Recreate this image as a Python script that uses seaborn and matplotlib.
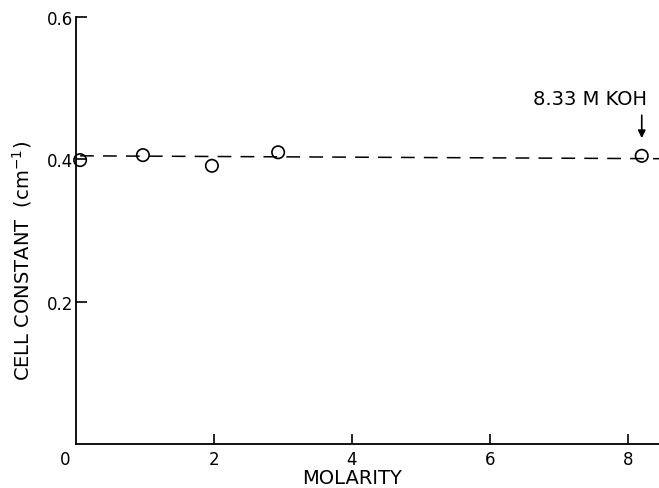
import seaborn as sns
import matplotlib.pyplot as plt
import matplotlib.transforms as mtransforms
import pandas as pd

sns.set_style('ticks')
plt.rcParams['font.family'] = ['DejaVu Sans']
plt.rcParams.update({'text.color': 'black', 'axes.labelcolor': 'black',
                     'xtick.color': 'black', 'ytick.color': 'black',
                     'axes.edgecolor': 'black'})

# measured points
molarity = [0.06, 0.97, 1.97, 2.93, 8.2]
cell_const = [0.399, 0.406, 0.391, 0.410, 0.405]
# dashed mean line
line_x = [0.06, 8.45]
line_y = [0.405, 0.401]
xticks = [0, 2, 4, 6, 8]
yticks = [0.2, 0.4, 0.6]

pts = pd.DataFrame({'M': molarity, 'K': cell_const})
fit = pd.DataFrame({'M': line_x, 'K': line_y})

fig = plt.figure(figsize=(6.59, 4.89), dpi=100)
ax = fig.add_axes([0.1153, 0.09, 0.8847, 0.873])

sns.lineplot(data=fit, x='M', y='K', ax=ax, color='black', lw=1.1,
             legend=False)
ax.lines[-1].set_dashes((9, 6))
sns.scatterplot(data=pts, x='M', y='K', ax=ax, marker='o', s=80,
                facecolors='none', edgecolor='black', linewidth=1.2,
                clip_on=False, zorder=3)

ax.set_xlim(0, 8.45)
ax.set_ylim(0, 0.6)
ax.set_xticks(xticks)
ax.set_xticklabels([str(t) for t in xticks])
ax.set_yticks(yticks)
ax.set_yticklabels(['0.2', '0.4', '0.6'])
ax.tick_params(axis='y', direction='in', length=8, width=1.2, pad=2, labelsize=12)
ax.tick_params(axis='x', direction='in', length=7, width=1.2, pad=4, labelsize=12)
# origin label sits left of the corner, no tick mark there
ax.xaxis.get_major_ticks()[0].tick1line.set_visible(False)
lbl0 = ax.get_xticklabels()[0]
lbl0.set_transform(lbl0.get_transform() + mtransforms.ScaledTranslation(-0.11, 0, fig.dpi_scale_trans))

for s in ['top', 'right']:
    ax.spines[s].set_visible(False)
for s in ['left', 'bottom']:
    ax.spines[s].set_linewidth(1.3)

ax.set_xlabel('MOLARITY', fontsize=14)
ax.set_ylabel('CELL CONSTANT  (cm$^{-1}$)', fontsize=14)
ax.xaxis.set_label_coords(0.473, -0.056)
ax.yaxis.set_label_coords(-0.072, 0.43)

ax.text(7.45, 0.485, '8.33 M KOH', ha='center', va='center', fontsize=14)
ax.annotate('', xy=(molarity[-1], 0.426), xytext=(molarity[-1], 0.466),
            arrowprops=dict(arrowstyle='-|>', color='black', lw=1.2,
                            mutation_scale=11))

fig.savefig('out.png', dpi=100)
